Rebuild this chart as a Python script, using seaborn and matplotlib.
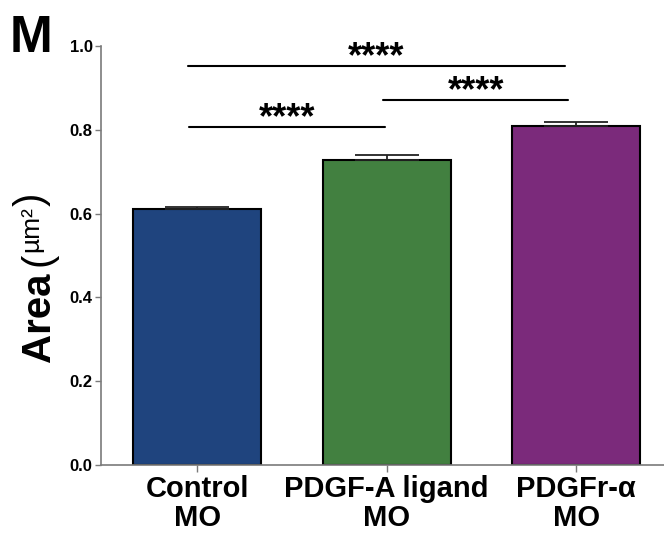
import matplotlib
matplotlib.use("Agg")
import matplotlib.pyplot as plt
import seaborn as sns
import pandas as pd

# data
groups = ["Control\nMO", "PDGF-A ligand\nMO", "PDGFr-α\nMO"]
area = [0.610, 0.728, 0.809]
sem = [0.005, 0.012, 0.010]
colors = ["#1F447E", "#428040", "#7B2A7B"]

# significance brackets: (left x, right x, line height, star label)
sig_lines = [(-0.05, 1.94, 0.952, "****"),
             (0.98, 1.96, 0.871, "****"),
             (-0.04, 0.99, 0.807, "****")]

sns.set_style("white")
plt.rcParams["font.family"] = ["Liberation Sans", "DejaVu Sans"]
plt.rcParams["font.weight"] = "bold"
plt.rcParams["text.color"] = "black"
plt.rcParams["xtick.color"] = "black"
plt.rcParams["ytick.color"] = "black"

df = pd.DataFrame({"group": groups, "area": area})

fig = plt.figure(figsize=(6.64, 5.37), dpi=100)
ax = fig.add_axes([0.1521, 0.1341, 0.8479, 0.7802])

sns.barplot(data=df, x="group", y="area", hue="group", palette=colors,
            saturation=1, width=0.675, edgecolor="black", linewidth=1.5,
            legend=False, ax=ax)

# upper-only error bars
ax.errorbar(range(len(groups)), area, yerr=[[0] * len(sem), sem], fmt="none",
            ecolor="#222222", elinewidth=1.3, capsize=23, capthick=1.3, zorder=3)

# significance lines and stars
for x0, x1, h, lab in sig_lines:
    ax.plot([x0, x1], [h, h], color="black", lw=1.5, clip_on=False)
    ax.text((x0 + x1) / 2, h - 0.002, lab, ha="center", va="baseline",
            fontsize=26, fontweight="bold", clip_on=False)

ax.set_ylim(0, 1.0)
ax.set_xlim(-0.507, 2.464)
ax.set_yticks([0.0, 0.2, 0.4, 0.6, 0.8, 1.0])
ax.set_yticklabels(["0.0", "0.2", "0.4", "0.6", "0.8", "1.0"])
ax.set_xlabel("")
ax.set_ylabel("")

for side in ["top", "right"]:
    ax.spines[side].set_visible(False)
for side in ["left", "bottom"]:
    ax.spines[side].set_color("#7a7a7a")
    ax.spines[side].set_linewidth(1.2)

ax.tick_params(axis="y", left=True, length=4.5, width=1.0, color="#7a7a7a",
               pad=1.5, labelsize=12)
ax.tick_params(axis="x", bottom=True, length=5, width=1.0, color="#7a7a7a",
               pad=2, labelsize=21)
for t in ax.get_xticklabels():
    t.set_fontweight("bold")
    t.set_linespacing(1.05)
for t in ax.get_yticklabels():
    t.set_fontweight("bold")

# y label: "Area" big, then the unit
area_txt = fig.text(39 / 664, 1 - 362 / 537, "Area", rotation=90, ha="center",
                    va="bottom", fontsize=29, fontweight="bold")
unit_txt = ax.annotate("(", xy=(0.5, 1), xycoords=area_txt, xytext=(0, 5),
                       textcoords="offset points", rotation=90, ha="center",
                       va="bottom", fontsize=29, fontweight="normal")
um_txt = ax.annotate("µm²", xy=(0.3, 1), xycoords=unit_txt, rotation=90,
                     ha="center", va="bottom", fontsize=19, fontweight="normal")
ax.annotate(")", xy=(0.5, 1), xycoords=um_txt, rotation=90, ha="center",
            va="bottom", fontsize=29, fontweight="normal")

# panel letter
fig.text(10 / 664, 1 - 52 / 537, "M", ha="left", va="baseline",
         fontsize=37, fontweight="bold")

fig.savefig("out.png", dpi=100)
